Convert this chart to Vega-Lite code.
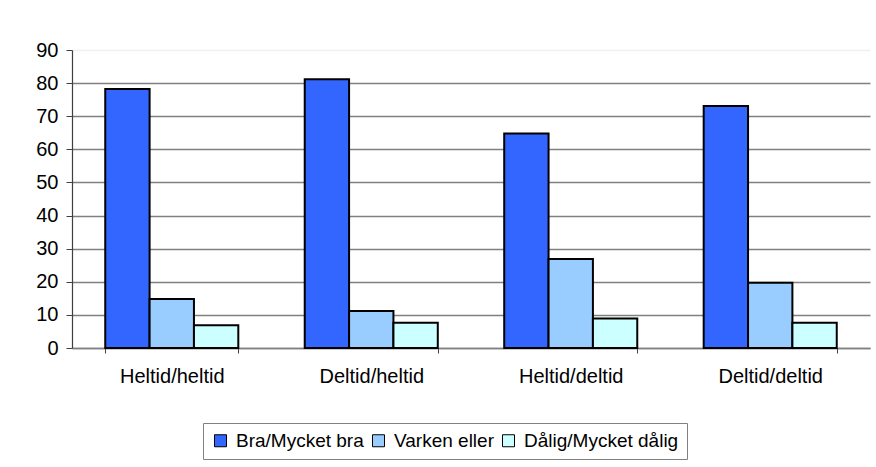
{
  "$schema": "https://vega.github.io/schema/vega-lite/v6.json",
  "width": 798,
  "height": 298,
  "autosize": {"type": "none"},
  "padding": {"left": 72, "top": 50, "right": 6, "bottom": 119},
  "background": "white",
  "data": {
    "values": [
      {"grupp": "Heltid/heltid", "svar": "Bra/Mycket bra", "procent": 78.2},
      {"grupp": "Heltid/heltid", "svar": "Varken eller", "procent": 14.8},
      {"grupp": "Heltid/heltid", "svar": "Dålig/Mycket dålig", "procent": 6.9},
      {"grupp": "Deltid/heltid", "svar": "Bra/Mycket bra", "procent": 81.2},
      {"grupp": "Deltid/heltid", "svar": "Varken eller", "procent": 11.2},
      {"grupp": "Deltid/heltid", "svar": "Dålig/Mycket dålig", "procent": 7.6},
      {"grupp": "Heltid/deltid", "svar": "Bra/Mycket bra", "procent": 64.8},
      {"grupp": "Heltid/deltid", "svar": "Varken eller", "procent": 26.9},
      {"grupp": "Heltid/deltid", "svar": "Dålig/Mycket dålig", "procent": 8.9},
      {"grupp": "Deltid/deltid", "svar": "Bra/Mycket bra", "procent": 73.1},
      {"grupp": "Deltid/deltid", "svar": "Varken eller", "procent": 19.7},
      {"grupp": "Deltid/deltid", "svar": "Dålig/Mycket dålig", "procent": 7.6}
    ]
  },
  "mark": {"type": "bar", "stroke": "black", "strokeWidth": 2},
  "encoding": {
    "x": {
      "field": "grupp",
      "type": "nominal",
      "sort": ["Heltid/heltid", "Deltid/heltid", "Heltid/deltid", "Deltid/deltid"],
      "scale": {"paddingInner": 0.333, "paddingOuter": 0.1667},
      "axis": {
        "title": null,
        "labelAngle": 0,
        "tickBand": "extent",
        "labelFontSize": 20,
        "labelPadding": 13,
        "labelLimit": 300,
        "tickSize": 5,
        "tickColor": "#404040",
        "domainColor": "#808080",
        "domainWidth": 1.5,
        "labelColor": "black",
        "grid": false
      }
    },
    "xOffset": {
      "field": "svar",
      "type": "nominal",
      "sort": ["Bra/Mycket bra", "Varken eller", "Dålig/Mycket dålig"]
    },
    "y": {
      "field": "procent",
      "type": "quantitative",
      "scale": {"domain": [0, 90], "nice": false},
      "axis": {
        "title": null,
        "values": [0, 10, 20, 30, 40, 50, 60, 70, 80, 90],
        "labelFontSize": 20,
        "labelPadding": 8,
        "tickSize": 6,
        "tickColor": "#404040",
        "domainColor": "#404040",
        "domainWidth": 1.2,
        "labelColor": "black",
        "grid": true,
        "gridWidth": 1.5,
        "gridColor": {"condition": {"test": "datum.value == 90", "value": "#f0f0f0"}, "value": "#808080"}
      }
    },
    "color": {
      "field": "svar",
      "type": "nominal",
      "sort": ["Bra/Mycket bra", "Varken eller", "Dålig/Mycket dålig"],
      "scale": {
        "domain": ["Bra/Mycket bra", "Varken eller", "Dålig/Mycket dålig"],
        "range": ["#3366FF", "#99CCFF", "#CCFFFF"]
      },
      "legend": {
        "title": null,
        "orient": "none",
        "direction": "horizontal",
        "legendX": 131,
        "legendY": 373,
        "symbolType": "square",
        "symbolSize": 144,
        "symbolStrokeColor": "black",
        "symbolStrokeWidth": 1,
        "symbolOpacity": 1,
        "labelFontSize": 19,
        "labelLimit": 400,
        "labelColor": "black",
        "labelOffset": 6,
        "columnPadding": 5,
        "padding": 8,
        "strokeColor": "#808080",
        "fillColor": "white"
      }
    }
  },
  "config": {
    "view": {"stroke": null},
    "font": "Liberation Sans"
  }
}
